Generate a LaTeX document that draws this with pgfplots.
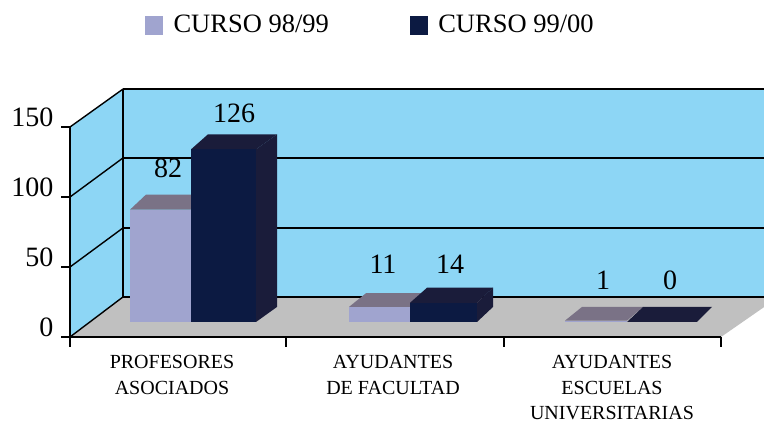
\documentclass[border=0pt]{standalone}
\usepackage{fontspec}
\setmainfont{Liberation Serif}
\usepackage{pgfplots}
\pgfplotsset{compat=1.18}
\definecolor{wall}{HTML}{8DD6F5}
\definecolor{floorc}{HTML}{C0C0C0}
\definecolor{lightf}{HTML}{A0A4CF}
\definecolor{lightt}{HTML}{7A7286}
\definecolor{darkf}{HTML}{0C1A42}
\definecolor{darkt}{HTML}{1A1C3A}
\tikzset{wallline/.style={black,line width=1.4pt}}
\begin{document}
\begin{tikzpicture}
\useasboundingbox (0,0) rectangle (764pt,422pt);
\clip (0,0) rectangle (764pt,422pt);
% walls, floor, axes: y in chart units, x in picture columns
\begin{axis}[
  at={(70pt,85pt)},anchor=south west,
  scale only axis,width=651pt,height=210pt,
  xmin=70,xmax=721,ymin=0,ymax=150,
  clip=false,axis on top,
  axis x line*=bottom,axis y line*=left,
  axis line style={line width=1.4pt},
  tick align=outside,
  major tick length=9pt,minor tick length=10pt,
  tick style={black,line width=1.4pt},
  major x tick style={draw=none},
  ytick={0,50,100,150},
  xtick={172,393,612},
  minor xtick={70,286,504,721},
  xticklabels={{PROFESORES\\ASOCIADOS},{AYUDANTES\\DE FACULTAD},{AYUDANTES\\ESCUELAS\\UNIVERSITARIAS}},
  xticklabel style={align=center,anchor=north,inner ysep=0pt,yshift=-8.8pt,
    font=\fontsize{20}{25.8}\selectfont},
  yticklabel style={font=\fontsize{28}{28}\selectfont,anchor=east,xshift=-4pt,yshift=10pt,
    /pgf/number format/assume math mode=true},
  legend style={at={(0.1105,1.486)},anchor=west,draw=none,fill=none,legend columns=2,
    font=\fontsize{26.5}{26.5}\selectfont,
    /tikz/every odd column/.append style={column sep=9pt},
    /tikz/every even column/.append style={column sep=79pt}},
]
% legend
\addlegendimage{legend image code/.code={\fill[lightf] (0pt,-9pt) rectangle (17pt,9pt);}}
\addlegendentry{CURSO 98/99}
\addlegendimage{legend image code/.code={\fill[darkf] (0pt,-9pt) rectangle (17pt,9pt);}}
\addlegendentry{CURSO 99/00}
% back wall and left wall
\addplot[fill=wall,draw=none] coordinates {(123,28.6)(770,28.6)(770,177.1)(123,177.1)} --cycle;
\addplot[fill=wall,draw=none] coordinates {(70,0)(123,28.6)(123,177.1)(70,150)} --cycle;
% floor
\addplot[fill=floorc,draw=none] coordinates {(70,0)(721,0)(770,24.3)(770,28.6)(123,28.6)} --cycle;
% grid lines
\addplot[wallline] coordinates {(123,28.6)(770,28.6)};
\addplot[wallline] coordinates {(123,77.9)(770,77.9)};
\addplot[wallline] coordinates {(123,127.9)(770,127.9)};
\addplot[wallline] coordinates {(123,177.1)(770,177.1)};
\addplot[wallline] coordinates {(123,28.6)(123,177.1)};
\addplot[wallline] coordinates {(70,0)(123,28.6)};
\addplot[wallline] coordinates {(70,50)(123,77.9)};
\addplot[wallline] coordinates {(70,100)(123,127.9)};
\addplot[wallline] coordinates {(70,150)(123,177.1)};
\end{axis}
% bars: y values are the chart's values, baseline on the floor
\begin{axis}[
  at={(70pt,100pt)},anchor=south west,
  scale only axis,width=651pt,height=205.5pt,
  xmin=70,xmax=721,ymin=0,ymax=150,
  clip=false,hide axis,
]
% Profesores asociados
\addplot[fill=lightt,draw=none] coordinates {(130,82)(191,82)(207,93)(146,93)} --cycle;
\addplot[fill=lightf,draw=none] coordinates {(130,0)(191,0)(191,82)(130,82)} --cycle;
\addplot[fill=darkt,draw=none] coordinates {(191,126)(256,126)(277,137)(208,137)} --cycle;
\addplot[fill=darkt,draw=none] coordinates {(256,0)(277,11)(277,137)(256,126)} --cycle;
\addplot[fill=darkf,draw=none] coordinates {(191,0)(256,0)(256,126)(191,126)} --cycle;
% Ayudantes de facultad
\addplot[fill=lightt,draw=none] coordinates {(349,11)(410,11)(426,21)(366,21)} --cycle;
\addplot[fill=lightf,draw=none] coordinates {(349,0)(410,0)(410,11)(349,11)} --cycle;
\addplot[fill=darkt,draw=none] coordinates {(410,14)(477,14)(493,25)(427,25)} --cycle;
\addplot[fill=darkt,draw=none] coordinates {(477,0)(493,11)(493,25)(477,14)} --cycle;
\addplot[fill=darkf,draw=none] coordinates {(410,0)(477,0)(477,14)(410,14)} --cycle;
% Ayudantes escuelas universitarias
\addplot[fill=lightt,draw=none] coordinates {(565,1)(627,1)(643,11)(582,11)} --cycle;
\addplot[fill=lightf,draw=none] coordinates {(565,0)(627,0)(627,1)(565,1)} --cycle;
\addplot[fill=darkt,draw=none] coordinates {(627,0)(697,0)(712,11)(643,11)} --cycle;
% value labels
\begin{scope}[every node/.style={font=\fontsize{28}{28}\selectfont}]
\node at (axis cs:168,112.4) {82};
\node at (axis cs:234,152.5) {126};
\node at (axis cs:383,42.3) {11};
\node at (axis cs:450,42.3) {14};
\node at (axis cs:603,30.6) {1};
\node at (axis cs:670,30.6) {0};
\end{scope}
\end{axis}
\end{tikzpicture}
\end{document}
